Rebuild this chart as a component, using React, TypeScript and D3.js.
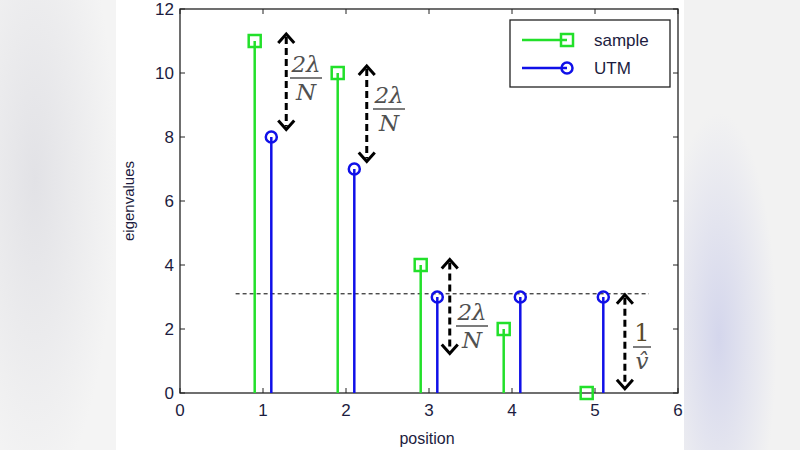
import React from "react";
import * as d3 from "d3";

const positions = [1, 2, 3, 4, 5];
const sampleValues = [11, 10, 4, 2, 0];
const utmValues = [8, 7, 3, 3, 3];
const xTicks = [0, 1, 2, 3, 4, 5, 6];
const yTicks = [0, 2, 4, 6, 8, 10, 12];
const thresholdLevel = 3.1;
const thresholdRange = [0.67, 5.65];
// arrows: [x, yTop, yBottom]
const arrowXs = [1.28, 2.25, 3.25, 5.36];
const arrowTops = [11.25, 10.25, 4.2, 3.1];
const arrowBottoms = [8.2, 7.2, 1.2, 0.1];
const arrowLabels = ["2λ/N", "2λ/N", "2λ/N", "1/v̂"];

const W = 800, H = 450;
const x = d3.scaleLinear().domain([0, 6]).range([180, 678]);
const y = d3.scaleLinear().domain([0, 12]).range([393, 9]);

const GREEN = "#22e02a";
const BLUE = "#1010e8";
const TXT = "#1c1c40";

function Arrow({ xv, top, bottom }: { xv: number; top: number; bottom: number }) {
  const cx = x(xv), y1 = y(top), y2 = y(bottom);
  return (
    <g stroke="#000" strokeWidth={3} fill="none">
      <line x1={cx} x2={cx} y1={y1 + 4} y2={y2 - 4} strokeDasharray="7,4" />
      <polyline points={`${cx - 8},${y1 + 10} ${cx},${y1 + 1} ${cx + 8},${y1 + 10}`} strokeWidth={3} />
      <polyline points={`${cx - 8},${y2 - 10} ${cx},${y2 - 1} ${cx + 8},${y2 - 10}`} strokeWidth={3} />
    </g>
  );
}

function Fraction({ cx, cy, num, den }: { cx: number; cy: number; num: string; den: string }) {
  const isOne = num === "1";
  const half = isOne ? 9 : 16;
  return (
    <g fill="#505050" fontFamily="'DejaVu Serif', 'Liberation Serif', serif" fontStyle="italic" textAnchor="middle">
      <text x={cx} y={cy - 6} fontSize={isOne ? 24 : 23} fontStyle={isOne ? "normal" : "italic"} fill={isOne ? "#5a4a2a" : "#505050"}>{num}</text>
      <line x1={cx - half} x2={cx + half} y1={cy} y2={cy} stroke="#505050" strokeWidth={1.5} />
      <text x={cx} y={cy + 22} fontSize={23}>{den}</text>
    </g>
  );
}

export default function App() {
  const sampleX = positions.map((p) => p - 0.1);
  const utmX = positions.map((p) => p + 0.1);
  const fracPos = [
    { cx: 306, cy: 78 },
    { cx: 389, cy: 109 },
    { cx: 472, cy: 326 },
    { cx: 642, cy: 347 },
  ];
  return (
    <svg width={W} height={H} style={{ position: "absolute", left: 0, top: 0 }} fontFamily="'Liberation Sans', Arial, sans-serif">
      <defs>
        <radialGradient id="blurL" cx="0.3" cy="0.4" r="0.7">
          <stop offset="0" stopColor="#e2e2e6" />
          <stop offset="1" stopColor="#f4f4f4" />
        </radialGradient>
        <radialGradient id="blurR" cx="0.3" cy="0.75" r="0.5">
          <stop offset="0" stopColor="#d4d6ec" />
          <stop offset="1" stopColor="#f2f2f2" />
        </radialGradient>
      </defs>
      <rect x={0} y={0} width={116} height={H} fill="url(#blurL)" />
      <rect x={684} y={0} width={116} height={H} fill="url(#blurR)" />
      <rect x={116} y={0} width={568} height={H} fill="#fff" />

      {/* axes box */}
      <rect x={x(0)} y={y(12)} width={x(6) - x(0)} height={y(0) - y(12)} fill="none" stroke="#222" strokeWidth={1.3} />
      {xTicks.map((t) => (
        <g key={"xt" + t}>
          <line x1={x(t)} x2={x(t)} y1={y(0)} y2={y(0) - 5} stroke="#222" />
          <line x1={x(t)} x2={x(t)} y1={y(12)} y2={y(12) + 5} stroke="#222" />
          <text x={x(t)} y={y(0) + 23} fontSize={17} textAnchor="middle" fill={TXT}>{t}</text>
        </g>
      ))}
      {yTicks.map((t) => (
        <g key={"yt" + t}>
          <line x1={x(0)} x2={x(0) + 5} y1={y(t)} y2={y(t)} stroke="#222" />
          <line x1={x(6)} x2={x(6) - 5} y1={y(t)} y2={y(t)} stroke="#222" />
          <text x={x(0) - 6} y={y(t) + 6} fontSize={17} textAnchor="end" fill={TXT}>{t}</text>
        </g>
      ))}
      <text x={(x(0) + x(6)) / 2 - 2} y={444} fontSize={16} textAnchor="middle" fill={TXT}>position</text>
      <text transform={`translate(134, ${(y(0) + y(12)) / 2}) rotate(-90)`} fontSize={15} textAnchor="middle" fill={TXT}>eigenvalues</text>

      {/* threshold */}
      <line x1={x(thresholdRange[0])} x2={x(thresholdRange[1])} y1={y(thresholdLevel)} y2={y(thresholdLevel)} stroke="#000" strokeWidth={1} strokeDasharray="4,3" />

      {/* stems */}
      {sampleX.map((px, i) => (
        <g key={"s" + i}>
          <line x1={x(px)} x2={x(px)} y1={y(0)} y2={y(sampleValues[i])} stroke={GREEN} strokeWidth={2.5} />
          <rect x={x(px) - 6} y={y(sampleValues[i]) - 6} width={12} height={12} fill="none" stroke={GREEN} strokeWidth={2.5} />
        </g>
      ))}
      {utmX.map((px, i) => (
        <g key={"u" + i}>
          <line x1={x(px)} x2={x(px)} y1={y(0)} y2={y(utmValues[i])} stroke={BLUE} strokeWidth={2.5} />
          <circle cx={x(px)} cy={y(utmValues[i])} r={5.5} fill="none" stroke={BLUE} strokeWidth={2.5} />
        </g>
      ))}

      {arrowXs.map((ax, i) => (
        <Arrow key={"a" + i} xv={ax} top={arrowTops[i]} bottom={arrowBottoms[i]} />
      ))}
      {arrowLabels.map((lab, i) => {
        const [num, den] = lab.split("/");
        return <Fraction key={"f" + i} cx={fracPos[i].cx} cy={fracPos[i].cy} num={num} den={den} />;
      })}

      {/* legend */}
      <g>
        <rect x={510} y={20} width={160} height={67} fill="#fff" stroke="#222" strokeWidth={1.3} />
        <line x1={522} x2={567} y1={40} y2={40} stroke={GREEN} strokeWidth={2.5} />
        <rect x={561} y={34} width={12} height={12} fill="none" stroke={GREEN} strokeWidth={2.5} />
        <text x={594} y={46} fontSize={17} fill={TXT}>sample</text>
        <line x1={522} x2={567} y1={68} y2={68} stroke={BLUE} strokeWidth={2.5} />
        <circle cx={567} cy={68} r={5.5} fill="none" stroke={BLUE} strokeWidth={2.5} />
        <text x={594} y={74} fontSize={17} fill={TXT}>UTM</text>
      </g>
    </svg>
  );
}
